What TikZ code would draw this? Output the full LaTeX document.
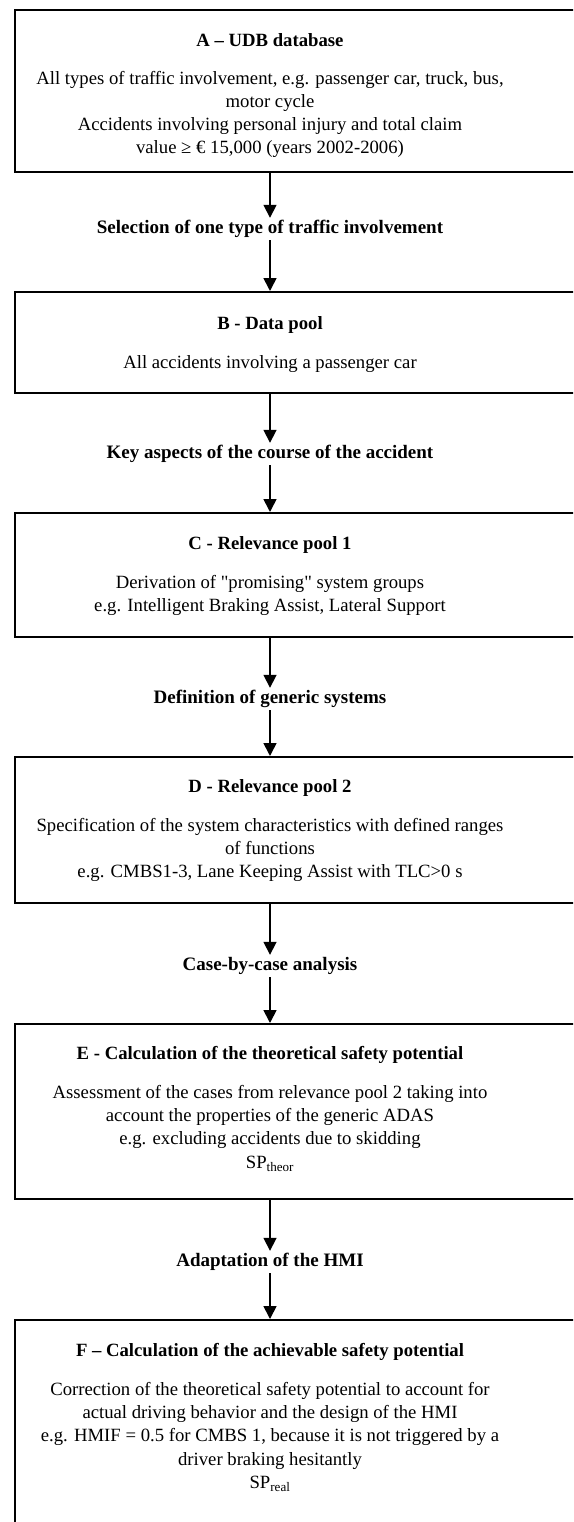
\documentclass[tikz,border=0pt]{standalone}
\usepackage{fontspec}
\setmainfont{Liberation Serif}
\usetikzlibrary{arrows.meta, positioning}

\tikzset{
  frame/.style={draw, line width=1.8pt, anchor=north west, minimum width=620pt, inner sep=0pt},
  boxtext/.style={anchor=north, align=center, inner sep=0pt, font=\fontsize{18.7}{23.2}\selectfont},
  stagelabel/.style={align=center, inner sep=0pt, minimum height=22pt, font=\fontsize{19}{22}\selectfont\bfseries},
  flow/.style={line width=1.7pt, -{Triangle[length=13pt,width=13pt]}}
}

\begin{document}
\begin{tikzpicture}[x=1pt, y=-1pt]

\newcommand{\midx}{270}
\newcommand{\boxleft}{14}
\newcommand{\titlegap}{16pt}

\useasboundingbox (0,0) rectangle (573,1522);
\clip (0,0) rectangle (573,1522);

% frames: name / top / height
\foreach \name/\top/\high in {udb/9/162, datapool/291/101, relone/512/124, reltwo/756/146, theor/1023/175, achiev/1319/300}
{
\node [frame, minimum height=\high pt] (\name) at (\boxleft, \top) {};
}

% box texts
\node [boxtext] (udbtxt) at (\midx, 33) {\textbf{A – UDB database}\\[15pt]
  All types of traffic involvement, e.g. passenger car, truck, bus,\\
  motor cycle\\
  Accidents involving personal injury and total claim\\
  value ≥ € 15,000 (years 2002-2006)};
\node [boxtext] (datapooltxt) at (\midx, 316) {\textbf{B - Data pool}\\[\titlegap]
  All accidents involving a passenger car};
\node [boxtext] (relonetxt) at (\midx, 536) {\textbf{C - Relevance pool 1}\\[\titlegap]
  Derivation of \textquotedbl promising\textquotedbl{} system groups\\
  e.g. Intelligent Braking Assist, Lateral Support};
\node [boxtext] (reltwotxt) at (\midx, 779) {\textbf{D - Relevance pool 2}\\[\titlegap]
  Specification of the system characteristics with defined ranges\\
  of functions\\
  e.g. CMBS1-3, Lane Keeping Assist with TLC>0 s};
\node [boxtext] (theortxt) at (\midx, 1046) {\textbf{E - Calculation of the theoretical safety potential}\\[\titlegap]
  Assessment of the cases from relevance pool 2 taking into\\
  account the properties of the generic ADAS\\
  e.g. excluding accidents due to skidding\\
  SP\textsubscript{theor}};
\node [boxtext] (achievtxt) at (\midx, 1343) {\textbf{F – Calculation of the achievable safety potential}\\[\titlegap]
  Correction of the theoretical safety potential to account for\\
  actual driving behavior and the design of the HMI\\
  e.g. HMIF = 0.5 for CMBS 1, because it is not triggered by a\\
  driver braking hesitantly\\
  SP\textsubscript{real}};

% stage labels between the boxes
\node [stagelabel] (selection) at (\midx, 229) {Selection of one type of traffic involvement};
\node [stagelabel] (keyaspects) at (\midx, 454) {Key aspects of the course of the accident};
\node [stagelabel] (generic) at (\midx, 699) {Definition of generic systems};
\node [stagelabel] (casebycase) at (\midx, 966) {Case-by-case analysis};
\node [stagelabel] (hmi) at (\midx, 1262) {Adaptation of the HMI};

\draw [flow] (udb.south -| selection) -- (selection);
\draw [flow] (selection) -- (datapool.north -| selection);
\draw [flow] (datapool.south -| keyaspects) -- (keyaspects);
\draw [flow] (keyaspects) -- (relone.north -| keyaspects);
\draw [flow] (relone.south -| generic) -- (generic);
\draw [flow] (generic) -- (reltwo.north -| generic);
\draw [flow] (reltwo.south -| casebycase) -- (casebycase);
\draw [flow] (casebycase) -- (theor.north -| casebycase);
\draw [flow] (theor.south -| hmi) -- (hmi);
\draw [flow] (hmi) -- (achiev.north -| hmi);

\end{tikzpicture}
\end{document}
